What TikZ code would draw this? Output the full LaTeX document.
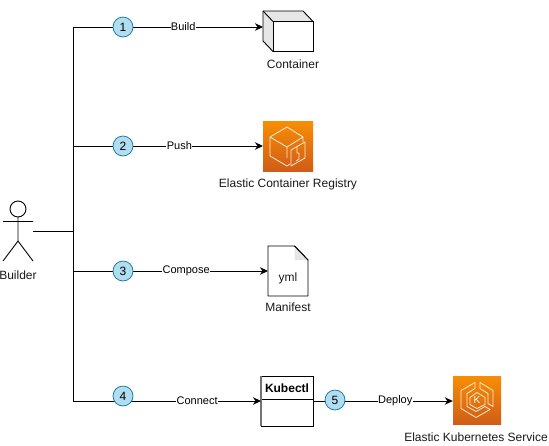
\documentclass[tikz,border=0pt]{standalone}
\usepackage{fontspec}
\setmainfont{Liberation Sans}
\usetikzlibrary{arrows.meta,calc}
\definecolor{stepfill}{HTML}{B1DDF0}
\definecolor{stepline}{HTML}{10739E}
\definecolor{awstop}{HTML}{F78E04}
\definecolor{awsbot}{HTML}{D05C17}
\definecolor{foldgrey}{HTML}{E6E6E6}
\tikzset{
  x=1pt,y=-1pt,
  conn/.style={draw=black,line width=0.9pt},
  arr/.style={conn,-{Stealth[length=8pt,width=7.5pt,inset=2.5pt]}},
  stepnum/.style={circle,draw=stepline,fill=stepfill,line width=0.7pt,minimum size=20pt,inner sep=0pt,font=\fontsize{12}{14}\selectfont},
  lbl/.style={fill=white,inner sep=0.4pt,font=\fontsize{11}{13}\selectfont},
  captxt/.style={inner sep=0pt,font=\fontsize{12}{14}\selectfont,text=black!90},
  shp/.style={draw=black,line width=0.9pt,fill=white},
  awsbox/.style={inner sep=0pt,minimum width=50pt,minimum height=50pt,top color=awstop,bottom color=awsbot,draw=none},
  icon/.style={draw=white,line width=0.8pt,line join=round,opacity=0.85},
}
\begin{document}
\begin{tikzpicture}
\useasboundingbox (0,0) rectangle (549,445);
\fill[white] (0,0) rectangle (549,445);

% actor
\draw[shp] (18,209) circle (8);
\draw[conn] (18,217) -- (18,241) (3,221.5) -- (33,221.5) (3,261) -- (18,241) -- (33,261);
\node[captxt] (builder) at (18,275) {Builder};
\coordinate (actor) at (33,231);
\coordinate (bus) at (73,231);

% targets
\draw[shp,fill=foldgrey,line join=round] (263,11) -- (303,11) -- (313,21.5) -- (313,51.5) -- (273,51.5) -- (263,41) -- cycle;
\draw[shp] (273,21.5) rectangle (313,51.5);
\draw[conn] (263,11) -- (273,21.5);
\node[captxt] (contl) at (293,64.5) {Container};

\node[awsbox] (ecr) at (288,146) {};
\begin{scope}[shift={(288,146)}]
\draw[icon] (-1,-19) -- (-18,-9) -- (-18,10) -- (-1,20) -- (2,18) (-18,-9) -- (-1,1) -- (-1,12) (-1,-19) -- (15,-9) -- (15,-4) (-1,1) -- (15,-9);
\draw[icon] (3,4) -- (17,-4) -- (17,12) -- (3,20) -- cycle (9,1) -- (9,7) -- (11,7) -- (11,13) -- (8,15);
\end{scope}
\node[captxt] (ecrl) at (288,184.5) {Elastic Container Registry};

\draw[shp,line join=round] (268,246) -- (294.5,246) -- (308,260) -- (308,296) -- (268,296) -- cycle;
\fill[foldgrey] (294.5,246.5) -- (294.5,260) -- (307.5,260) -- cycle;
\draw[conn] (294.5,246) -- (308,260);
\node[captxt] (yml) at (288,278) {yml};
\node[captxt] (manil) at (288,307) {Manifest};

\node[shp,inner sep=0pt,minimum width=52pt,minimum height=50pt] (kube) at (287,401) {};
\draw[conn] (261,399) -- (313,399);
\draw[draw=black!55,line width=1.2pt] (261,376) -- (261,426);
\node[inner sep=0pt,font=\fontsize{12}{14}\selectfont\bfseries] (kubet) at (287,388.5) {Kubectl};

\node[awsbox,minimum width=48pt,minimum height=48pt] (eks) at (477,400.5) {};
\begin{scope}[shift={(477,400.5)}]
\draw[icon] (-2,-18) -- (-16,-10) -- (-16,8) -- (-1,17) -- (13,9) -- (8,6) -- (-1,11) -- (-10,6) -- (-10,-7) -- (-2,-12) -- cycle;
\draw[icon] (3,-18) -- (16,-10) -- (16,6) -- (11,3) -- (11,-7) -- (3,-12) -- cycle;
\draw[icon] (0,-8) -- (8,-3) -- (8,4) -- (0,8) -- (-7,4) -- (-7,-3) -- cycle;
\node[inner sep=0pt,text=white,font=\fontsize{10}{10}\selectfont] (kay) at (0,0) {K};
\end{scope}
\node[captxt] (eksl) at (476,437.5) {Elastic Kubernetes Service};

% line ends
\coordinate (b1) at (73,27);
\coordinate (b2) at (73,146);
\coordinate (b3) at (73,271);
\coordinate (b4) at (73,401);
\coordinate (t1) at (263,27);
\coordinate (t2) at (263,146);
\coordinate (t3) at (268,271);
\coordinate (t4) at (261,401);

% connectors
\draw[conn] (actor) -- (bus);
\draw[conn] (b1) -- (b4);
\draw[arr] (b1) -- node[lbl,pos=0.58] {Build} (t1);
\draw[arr] (b2) -- node[lbl,pos=0.56] {Push} (t2);
\draw[arr] (b3) -- node[lbl,pos=0.58] {Compose} (t3);
\draw[arr] (b4) -- node[lbl,pos=0.66] {Connect} (t4);
\draw[arr] (kube.east |- 0,401) -- node[lbl,pos=0.587] {Deploy} (eks.west |- 0,401);

\node[stepnum] (s1) at (123,27) {1};
\node[stepnum] (s2) at (123,146) {2};
\node[stepnum] (s3) at (123,271) {3};
\node[stepnum] (s4) at (123,396) {4};
\node[stepnum] (s5) at (335,400) {5};
\end{tikzpicture}
\end{document}
